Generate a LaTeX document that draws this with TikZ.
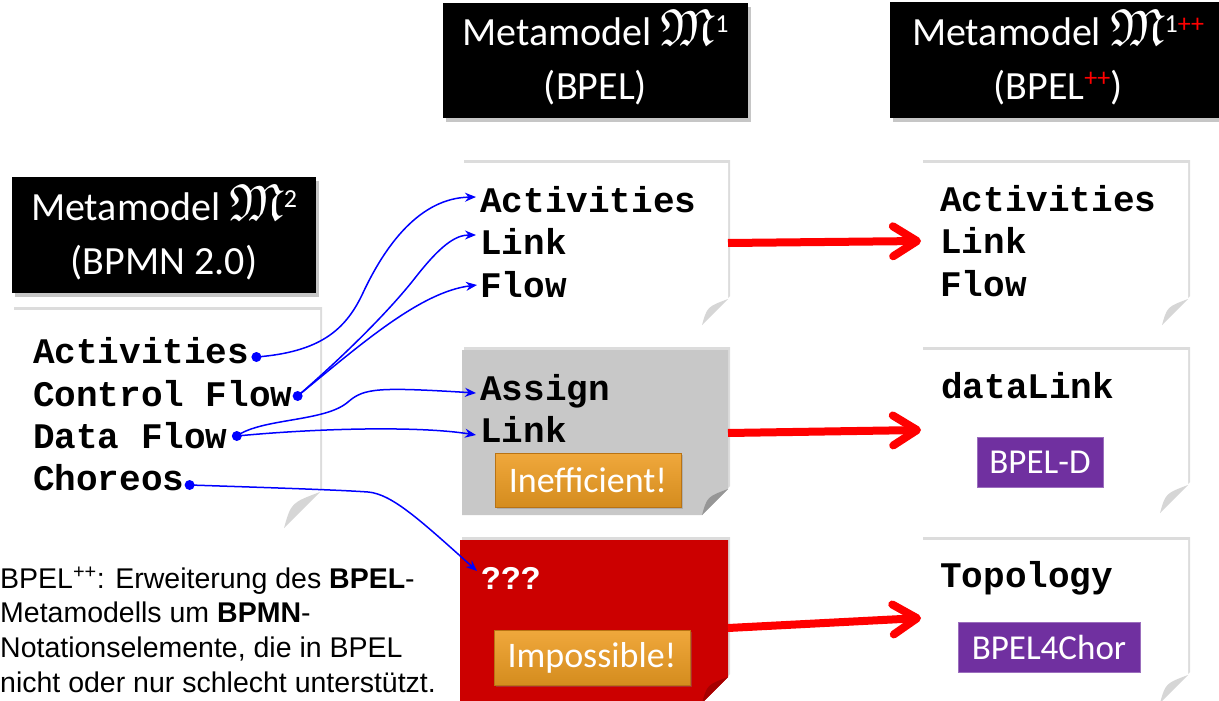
\documentclass[tikz,border=0pt]{standalone}
\usepackage{fontspec}
\usepackage{amssymb}
\setmainfont{Carlito}
\newfontfamily\courf{Liberation Mono}
\newfontfamily\arialf{Liberation Sans}
\usetikzlibrary{shadows,arrows.meta,calc}
\definecolor{paperGray}{RGB}{200,200,200}
\definecolor{foldLight}{RGB}{214,214,214}
\definecolor{foldDark}{RGB}{150,150,150}
\definecolor{paperRed}{RGB}{204,0,0}
\definecolor{foldRed}{RGB}{165,0,0}
\definecolor{btnTop}{RGB}{240,168,60}
\definecolor{btnBot}{RGB}{212,140,30}
\definecolor{btnEdge}{RGB}{185,115,20}
\definecolor{purpleBox}{RGB}{112,48,160}
\definecolor{arrBlue}{RGB}{0,0,255}
\definecolor{arrRed}{RGB}{255,0,0}
% #1 name, #2 x1, #3 y1, #4 x2, #5 y2, #6 fill, #7 fold colour, #8 fold size
\newcommand\paperbox[8]{%
  \fill[#6, drop shadow={shadow xshift=2pt,shadow yshift=3pt,opacity=.28}]
    (#2,#3) -- (#4,#3) -- (#4,#5-#8) -- (#4-#8,#5) -- (#2,#5) -- cycle;
  \fill[#7] (#4-#8,#5) .. controls (#4-0.8*#8,#5-0.7*#8) .. (#4,#5-#8) -- cycle;
  \coordinate (#1) at (#2,#3);
}
\newcommand\frakM{\smash{\fontsize{52}{52}\selectfont$\mathfrak{M}$}}
\newcommand\supr[1]{\raisebox{13pt}{\fontsize{26}{26}\selectfont #1}}
\begin{document}
\begin{tikzpicture}[x=1pt,y=-1pt,
  hdr/.style={fill=black, text=white, align=center, inner sep=0pt,
    font=\fontsize{40}{54}\selectfont,
    drop shadow={shadow xshift=3pt,shadow yshift=-4pt,opacity=.45}},
  mono/.style={font=\courf\bfseries\fontsize{36}{36}\selectfont, inner sep=0pt, anchor=base west},
  btn/.style={top color=btnTop, bottom color=btnBot, draw=btnEdge, line width=1pt,
    text=white, font=\fontsize{36}{36}\selectfont, inner sep=0pt,
    drop shadow={shadow xshift=1.5pt,shadow yshift=-2pt,opacity=.35}},
  tag/.style={fill=purpleBox, draw=purpleBox!70!white, line width=.6pt, text=white,
    font=\fontsize{35}{35}\selectfont, inner sep=0pt},
  note/.style={font=\arialf\fontsize{28.5}{34}\selectfont, inner sep=0pt, anchor=base west},
  conn/.style={arrBlue, line width=1.5pt, -{Stealth[length=11pt,width=9pt]}},
  dotc/.style={fill=arrBlue},
  redarr/.style={arrRed, line width=8pt, -{Straight Barb[length=24pt,width=30pt,round]}}
]
\useasboundingbox (0,0) rectangle (1219,701);

% headers
\node[hdr, minimum width=305pt, minimum height=115pt] (h1) at (595.5,60.5)
  {Metamodel \frakM\supr{1}\\(BPEL)};
\node[hdr, minimum width=336pt, minimum height=115pt] (h2) at (1058,60)
  {Metamodel \frakM\supr{1\textcolor{red}{++}}\\(BPEL\supr{\textcolor{red}{++}})};
\node[hdr, minimum width=304pt, minimum height=116pt] (h3) at (164,235)
  {Metamodel \frakM\supr{2}\\(BPMN 2.0)};

% papers
\paperbox{pl}{12}{310}{320}{528}{white}{foldLight}{36}
\paperbox{pm1}{462}{163}{728}{325}{white}{foldLight}{26}
\paperbox{pm2}{462}{350}{728}{515}{paperGray}{foldDark}{26}
\paperbox{pm3}{460}{540}{728}{703}{paperRed}{foldRed}{26}
\paperbox{pr1}{921}{163}{1188}{325}{white}{foldLight}{26}
\paperbox{pr2}{921}{350}{1188}{513}{white}{foldLight}{28}
\paperbox{pr3}{921}{540}{1188}{703}{white}{foldLight}{28}

% left texts
\node[mono] (lact) at (33,363) {Activities};
\node[mono] (lcf)  at (33,406) {Control Flow};
\node[mono] (ldf)  at (33,448) {Data Flow};
\node[mono] (lch)  at (33,490) {Choreos};

% middle texts
\node[mono] (mact) at (480,212) {Activities};
\node[mono] (mlink) at (480,254) {Link};
\node[mono] (mflow) at (480,297) {Flow};
\node[mono] (massign) at (480,400) {Assign};
\node[mono] (mlink2) at (480,442) {Link};
\node[mono, text=white, font=\courf\bfseries\fontsize{33}{33}\selectfont] (mq) at (481,589) {???};
\node[btn, minimum width=186pt, minimum height=54pt] (bineff) at (588,480) {Inefficient!};
\node[btn, minimum width=196pt, minimum height=55pt] (bimp) at (592,657.5) {Impossible!};

% right texts
\node[mono] (ract) at (940,211) {Activities};
\node[mono] (rlink) at (940,253) {Link};
\node[mono] (rflow) at (940,296) {Flow};
\node[mono] (rdl) at (941,398) {dataLink};
\node[mono] (rtop) at (940,587) {Topology};
\node[tag, minimum width=126pt, minimum height=50pt] (tagd) at (1040,462) {BPEL-D};
\node[tag, minimum width=182pt, minimum height=50pt] (tagc) at (1049,647) {BPEL4Chor};

% note
\node[note] (n1) at (0,588) {BPEL\textsuperscript{++}: Erweiterung des \textbf{BPEL}-};
\node[note] (n2) at (0,622) {Metamodells um \textbf{BPMN}-};
\node[note] (n3) at (0,657) {Notationselemente, die in BPEL};
\node[note] (n4) at (0,692) {nicht oder nur schlecht unterstützt.};

% dot coordinates
\coordinate (d1) at ([shift={(7,-6)}]lact.base east);
\coordinate (d2) at ([shift={(5,-10)}]lcf.base east);
\coordinate (d3) at ([shift={(9,-12)}]ldf.base east);
\coordinate (d4) at ([shift={(5,-5)}]lch.base east);
% arrow targets
\coordinate (t1) at ([shift={(-4,-15)}]mact.base west);
\coordinate (t2) at ([shift={(-4,-19)}]mlink.base west);
\coordinate (t3) at ([shift={(-3,-12)}]mflow.base west);
\coordinate (t4) at ([shift={(-4,-7)}]massign.base west);
\coordinate (t5) at ([shift={(-4,-7)}]mlink2.base west);
\coordinate (t6) at ([shift={(-4,-18)}]mq.base west);

% blue connectors
\draw[conn] (d1) .. controls (320,352) and (345,330) .. (362,295)
                 .. controls (385,245) and (420,198) .. (t1);
\draw[conn] (d2) .. controls (345,355) and (390,310) .. (415,278)
                 .. controls (440,246) and (455,235) .. (t2);
\draw[conn] (d2) .. controls (360,345) and (420,292) .. (t3);
\draw[conn] (d3) .. controls (262,418) and (325,422) .. (348,402)
                 .. controls (364,388) and (378,387) .. (t4);
\draw[conn] (d3) .. controls (320,428) and (420,426) .. (t5);
\draw[conn] (d4) .. controls (280,488) and (340,490) .. (368,492)
                 .. controls (392,494) and (420,520) .. (t6);
\foreach \d in {d1,d2,d3,d4} \fill[dotc] (\d) circle (5);

% red arrows
\coordinate (a1s) at (728,243);
\coordinate (a1e) at (921,241);
\coordinate (a2s) at (728,433);
\coordinate (a2e) at (921,430);
\coordinate (a3s) at (728,628);
\coordinate (a3e) at (921,618);
\draw[redarr] (a1s) -- (a1e);
\draw[redarr] (a2s) -- (a2e);
\draw[redarr] (a3s) -- (a3e);
\end{tikzpicture}
\end{document}
